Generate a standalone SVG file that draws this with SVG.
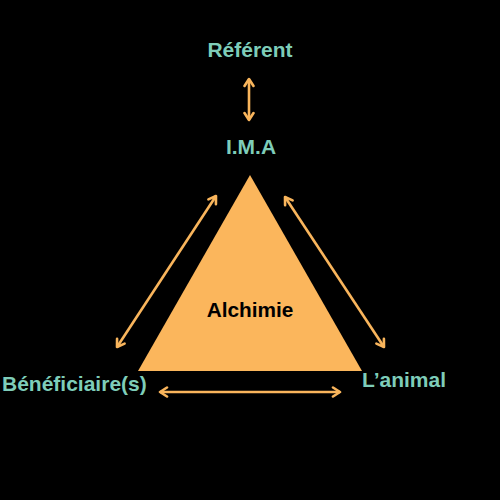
<svg xmlns="http://www.w3.org/2000/svg" width="500" height="500" viewBox="0 0 500 500">
<style>
.lbl{font-family:"Liberation Sans",Arial,sans-serif;font-weight:bold;font-size:21px;fill:#7ECDB9}
.in{font-family:"Liberation Sans",Arial,sans-serif;font-weight:bold;font-size:20.8px;fill:#000}
.con{stroke:#F9B55C;stroke-width:2.6;fill:none;marker-start:url(#ah);marker-end:url(#ah)}
</style>
<defs>
<marker id="ah" viewBox="0 0 12 12" refX="10" refY="6" markerWidth="12" markerHeight="12" markerUnits="userSpaceOnUse" orient="auto-start-reverse">
<path d="M3,1.5 L10,6 L3,10.5" fill="none" stroke="#F9B55C" stroke-width="2.6" stroke-linecap="round" stroke-linejoin="round"/>
</marker>
</defs>
<rect width="500" height="500" fill="#000"/>
<g id="triangle">
<polygon points="250,175 138,371 362,371" fill="#FBB65C"/>
<text class="in" x="250" y="317" text-anchor="middle">Alchimie</text>
</g>
<g id="referent"><text class="lbl" x="250" y="57" text-anchor="middle">Référent</text></g>
<g id="ima"><text class="lbl" x="251" y="154" text-anchor="middle">I.M.A</text></g>
<g id="beneficiaires"><text class="lbl" x="2" y="391">Bénéficiaire(s)</text></g>
<g id="animal"><text class="lbl" x="362" y="387">L’animal</text></g>
<g id="connectors">
<line class="con" x1="249" y1="79" x2="249" y2="120"/>
<line class="con" x1="117" y1="347" x2="216" y2="196"/>
<line class="con" x1="285" y1="197" x2="384" y2="347"/>
<line class="con" x1="160" y1="392" x2="340" y2="392"/>
</g>
</svg>
